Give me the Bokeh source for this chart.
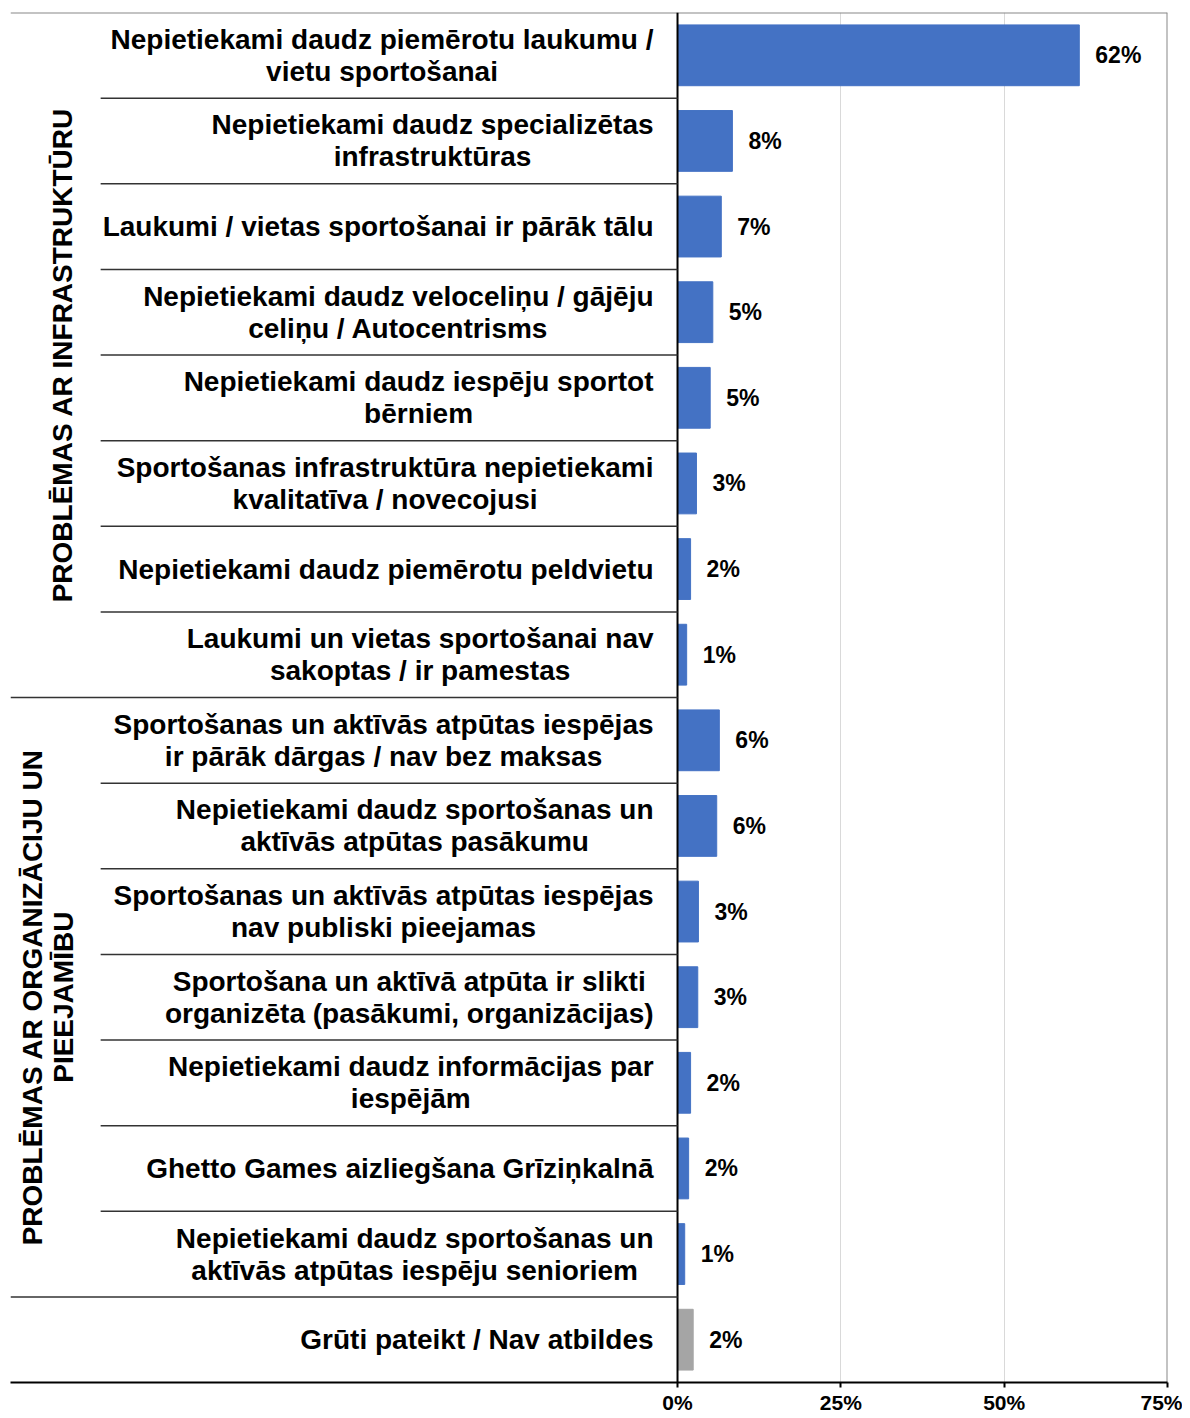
import math
from bokeh.plotting import figure
from bokeh.models import Range1d, FixedTicker, ColumnDataSource
from bokeh.core.properties import value
from bokeh.embed import file_html
from bokeh.resources import INLINE

categories = [
    "Nepietiekami daudz piemērotu laukumu /\nvietu sportošanai",
    "Nepietiekami daudz specializētas\ninfrastruktūras",
    "Laukumi / vietas sportošanai ir pārāk tālu",
    "Nepietiekami daudz veloceliņu / gājēju\nceliņu / Autocentrisms",
    "Nepietiekami daudz iespēju sportot\nbērniem",
    "Sportošanas infrastruktūra nepietiekami\nkvalitatīva / novecojusi",
    "Nepietiekami daudz piemērotu peldvietu",
    "Laukumi un vietas sportošanai nav\nsakoptas / ir pamestas",
    "Sportošanas un aktīvās atpūtas iespējas\nir pārāk dārgas / nav bez maksas",
    "Nepietiekami daudz sportošanas un\naktīvās atpūtas pasākumu",
    "Sportošanas un aktīvās atpūtas iespējas\nnav publiski pieejamas",
    "Sportošana un aktīvā atpūta ir slikti\norganizēta (pasākumi, organizācijas)",
    "Nepietiekami daudz informācijas par\niespējām",
    "Ghetto Games aizliegšana Grīziņkalnā",
    "Nepietiekami daudz sportošanas un\naktīvās atpūtas iespēju senioriem",
    "Grūti pateikt / Nav atbildes",
]
values = [61.5, 8.4, 6.7, 5.4, 5.0, 2.9, 2.0, 1.4, 6.4, 6.0, 3.2, 3.1, 2.0, 1.7, 1.1, 2.4]
value_labels = ["62%", "8%", "7%", "5%", "5%", "3%", "2%", "1%", "6%", "6%", "3%", "3%", "2%", "2%", "1%", "2%"]
group_names = ["PROBLĒMAS AR INFRASTRUKTŪRU", "PROBLĒMAS AR ORGANIZĀCIJU UN\nPIEEJAMĪBU", ""]
group_sizes = [8, 7, 1]
x_ticks = [0, 25, 50, 75]
x_tick_labels = ["0%", "25%", "50%", "75%"]

BLUE = "#4472C4"
GRAY = "#A5A5A5"
FONT = "Liberation Sans"

n = len(categories)
XMIN = -102.1
XMAX = 75
SEP_LEFT = -88.3

colors = [BLUE] * (n - 1) + [GRAY]
ys = [i + 0.5 for i in range(n)]

p = figure(width=1182, height=1416, output_backend="svg", toolbar_location=None,
           x_range=Range1d(XMIN, XMAX), y_range=Range1d(n, 0),
           min_border_left=10, min_border_right=15, min_border_top=12, min_border_bottom=0)
p.outline_line_color = None
p.background_fill_color = "white"
p.yaxis.visible = False
p.ygrid.visible = False
p.xgrid.ticker = FixedTicker(ticks=[25, 50])
p.xgrid.grid_line_color = "#d9d9d9"
p.xgrid.grid_line_width = 1
p.xaxis.ticker = FixedTicker(ticks=x_ticks)
p.xaxis.major_label_overrides = {t: l for t, l in zip(x_ticks, x_tick_labels)}
p.xaxis.major_label_text_font = FONT
p.xaxis.major_label_text_font_style = "bold"
p.xaxis.major_label_text_font_size = "21px"
p.xaxis.major_label_text_color = "black"
p.xaxis.axis_line_color = "black"
p.xaxis.axis_line_width = 2
p.xaxis.major_tick_line_color = "black"
p.xaxis.major_tick_line_width = 2
p.xaxis.major_tick_in = 0
p.xaxis.major_tick_out = 5
p.xaxis.minor_tick_line_color = None
p.xaxis.major_label_standoff = 3

src = ColumnDataSource(dict(y=ys, v=values, c=colors, lab=value_labels, cat=categories))
p.hbar(y="y", left=0, right="v", height=0.71, color="c", source=src)

# frame lines
p.segment(x0=[XMIN], y0=[0], x1=[XMAX], y1=[0], line_color="#888888", line_width=2)
p.segment(x0=[XMAX], y0=[0], x1=[XMAX], y1=[n], line_color="#888888", line_width=2)
p.segment(x0=[0], y0=[0], x1=[0], y1=[n], line_color="black", line_width=2)

# row separators
bounds = []
acc = 0
for s in group_sizes:
    acc += s
    bounds.append(acc)
sx0, sy = [], []
for i in range(1, n):
    sx0.append(XMIN if i in bounds else SEP_LEFT)
    sy.append(i)
p.segment(x0=sx0, y0=sy, x1=[0] * len(sy), y1=sy, line_color="#333333", line_width=1.5)

# value labels
p.text(x="v", y="y", text="lab", source=src, x_offset=16,
       text_font=value(FONT), text_font_style="bold", text_font_size="23px",
       text_align="left", text_baseline="middle", text_color="black")

# category labels
p.text(x=0, y="y", text="cat", source=src, x_offset=-24, anchor="center_right",
       text_font=value(FONT), text_font_style="bold", text_font_size="28px",
       text_align="center", text_baseline="middle", text_color="black", text_line_height=1.03)

# group labels
gy, gt, gx = [], [], []
start = 0
for name, s in zip(group_names, group_sizes):
    if name:
        gy.append(start + s / 2)
        gt.append(name)
        gx.append(XMIN)
    start += s
p.text(x=gx, y=gy, text=gt, x_offset=[52, 37], angle=math.pi / 2, anchor="center",
       text_font=value(FONT), text_font_style="bold", text_font_size="28px",
       text_align="center", text_baseline="middle", text_color="black", text_line_height=1.0)

open("out.html", "w").write(file_html(p, INLINE))
